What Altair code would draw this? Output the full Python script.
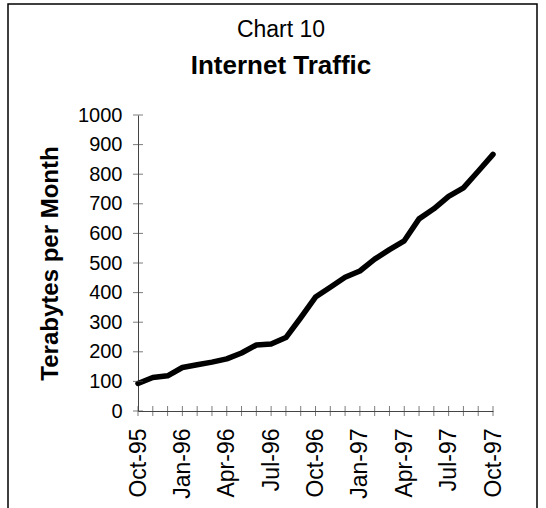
import altair as alt
import pandas as pd

# Monthly internet traffic, Oct-95 .. Oct-97
months = [
    "Oct-95", "Nov-95", "Dec-95", "Jan-96", "Feb-96", "Mar-96", "Apr-96",
    "May-96", "Jun-96", "Jul-96", "Aug-96", "Sep-96", "Oct-96", "Nov-96",
    "Dec-96", "Jan-97", "Feb-97", "Mar-97", "Apr-97", "May-97", "Jun-97",
    "Jul-97", "Aug-97", "Sep-97", "Oct-97",
]
terabytes = [
    93, 113, 119, 147, 156, 165, 176, 196, 223, 226, 248, 315, 385,
    418, 452, 473, 513, 545, 575, 649, 683, 725, 754, 810, 867,
]
labelled_months = ["Oct-95", "Jan-96", "Apr-96", "Jul-96", "Oct-96",
                   "Jan-97", "Apr-97", "Jul-97", "Oct-97"]
y_ticks = list(range(0, 1001, 100))
heading = "Chart 10"
subheading = "Internet Traffic"

FONT = "Liberation Sans"
AXIS_COLOR = "#444444"
W, H = 355, 296

df = pd.DataFrame({"month": months, "tb": terabytes})
ytick_df = pd.DataFrame({"v": y_ticks})
xtick_df = pd.DataFrame({"month": months})

x_scale = alt.Scale(type="point", padding=0, domain=months)
y_scale = alt.Scale(domain=[0, 1000], nice=False)

# one axis definition per channel, shared by every layer
x_axis = alt.Axis(values=labelled_months, labelAngle=270, ticks=False,
                  labelPadding=17, title=None, domainColor=AXIS_COLOR,
                  labelFontSize=23, labelFont=FONT, labelColor="black",
                  labelAlign="right", labelBaseline="middle")
y_axis = alt.Axis(values=y_ticks, format="d", ticks=False, grid=False, labelPadding=16,
                  title="Terabytes per Month", titleFontSize=24,
                  titleFont=FONT, titleFontWeight="bold", titleColor="black",
                  titleX=-88, titleY=H / 2, titleAngle=270,
                  titleAlign="center", titleBaseline="middle",
                  domainColor=AXIS_COLOR,
                  labelFontSize=20, labelFont=FONT, labelColor="black")

line = alt.Chart(df).mark_line(color="black", strokeWidth=5.5, strokeJoin="round", strokeCap="round").encode(
    x=alt.X("month:O", scale=x_scale, sort=months, axis=x_axis),
    y=alt.Y("tb:Q", scale=y_scale, axis=y_axis),
)

# tick marks that cross the axis lines
y_cross = alt.Chart(ytick_df).mark_tick(size=10, thickness=1, color=AXIS_COLOR, orient="horizontal").encode(
    y=alt.Y("v:Q", scale=y_scale, axis=y_axis), x=alt.value(0)
)
x_cross = alt.Chart(xtick_df).mark_tick(size=10, thickness=1, color=AXIS_COLOR, orient="vertical").encode(
    x=alt.X("month:O", scale=x_scale, sort=months, axis=x_axis), y=alt.value(H)
)

# heading lines above the plot
one = pd.DataFrame({"k": [0]})
head = alt.Chart(one).mark_text(
    text=heading, font=FONT, fontSize=23, color="black", align="center", baseline="alphabetic"
).encode(x=alt.value(143), y=alt.value(-78))
subhead = alt.Chart(one).mark_text(
    text=subheading, font=FONT, fontSize=26, fontWeight="bold", color="black",
    align="center", baseline="alphabetic"
).encode(x=alt.value(143), y=alt.value(-41))

# outer frame around the whole figure
frame = alt.Chart(one).mark_rect(
    fill=None, stroke="black", strokeWidth=1.5
).encode(
    x=alt.value(-130), x2=alt.value(W + 44), y=alt.value(-111), y2=alt.value(H + 120)
)

chart = alt.layer(line, y_cross, x_cross, head, subhead, frame).properties(
    width=W, height=H,
).configure(
    autosize=alt.AutoSizeParams(type="none"),
    padding={"left": 138, "top": 115, "right": 53, "bottom": 97},
    background="white",
).configure_view(stroke=None)

chart.save("out.html", embed_options={"renderer": "svg", "actions": False})
